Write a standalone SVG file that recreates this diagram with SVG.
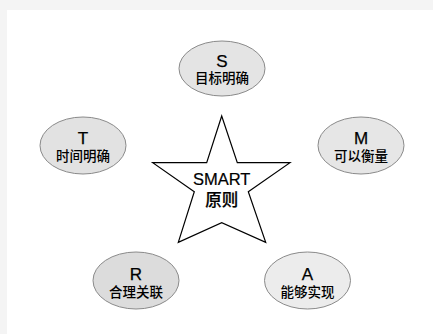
<svg xmlns="http://www.w3.org/2000/svg" width="433" height="334" viewBox="0 0 433 334">
<style>
.bg{fill:#f4f4f4}
.panel{fill:#ffffff}
.node ellipse{stroke:#8a8a8a;stroke-width:1}
.star{fill:#ffffff;stroke:#000000;stroke-width:1.2;stroke-linejoin:miter}
.t1{font-family:"Liberation Sans","Noto Sans CJK SC",sans-serif;font-size:17px;fill:#000;text-anchor:middle;stroke:#000;stroke-width:0.25}
.t2{font-family:"Liberation Sans","Noto Sans CJK SC",sans-serif;font-size:13.5px;font-weight:500;fill:#000;text-anchor:middle}
.t3{font-family:"Liberation Sans","Noto Sans CJK SC",sans-serif;font-size:16.5px;font-weight:500;fill:#000;text-anchor:middle;stroke:#000;stroke-width:0.2}
</style>
<rect class="bg" x="0" y="0" width="433" height="334"/>
<rect class="panel" x="7" y="10" width="426" height="324"/>
<g id="connectors"></g>
<g id="center">
<polygon class="star" points="221.7,116 237.3,162.7 290,162.7 248.3,191.7 265.7,242.3 221.7,222.7 178.3,242.3 194.3,191.7 152.7,162.7 206.7,162.7"/>
<text class="t3" x="221.7" y="184.5">SMART</text>
<text class="t3" x="221.7" y="205.5">原则</text>
</g>
<g id="node-S" class="node">
<ellipse cx="222" cy="68.5" rx="43" ry="27.5" fill="#e4e4e4"/>
<text class="t1" x="222" y="66.5">S</text>
<text class="t2" x="222" y="83">目标明确</text>
</g>
<g id="node-T" class="node">
<ellipse cx="83" cy="145.5" rx="43" ry="28.5" fill="#e2e2e2"/>
<text class="t1" x="83" y="144">T</text>
<text class="t2" x="83" y="161">时间明确</text>
</g>
<g id="node-M" class="node">
<ellipse cx="361" cy="145.5" rx="43" ry="28.5" fill="#e6e6e6"/>
<text class="t1" x="361" y="144">M</text>
<text class="t2" x="361" y="161">可以衡量</text>
</g>
<g id="node-R" class="node">
<ellipse cx="136" cy="280.5" rx="43" ry="28.5" fill="#dcdcdc"/>
<text class="t1" x="136" y="279.5">R</text>
<text class="t2" x="136" y="296.5">合理关联</text>
</g>
<g id="node-A" class="node">
<ellipse cx="307.5" cy="280.5" rx="43" ry="28.5" fill="#ececec"/>
<text class="t1" x="307.5" y="279.5">A</text>
<text class="t2" x="307.5" y="296.5">能够实现</text>
</g>
</svg>
